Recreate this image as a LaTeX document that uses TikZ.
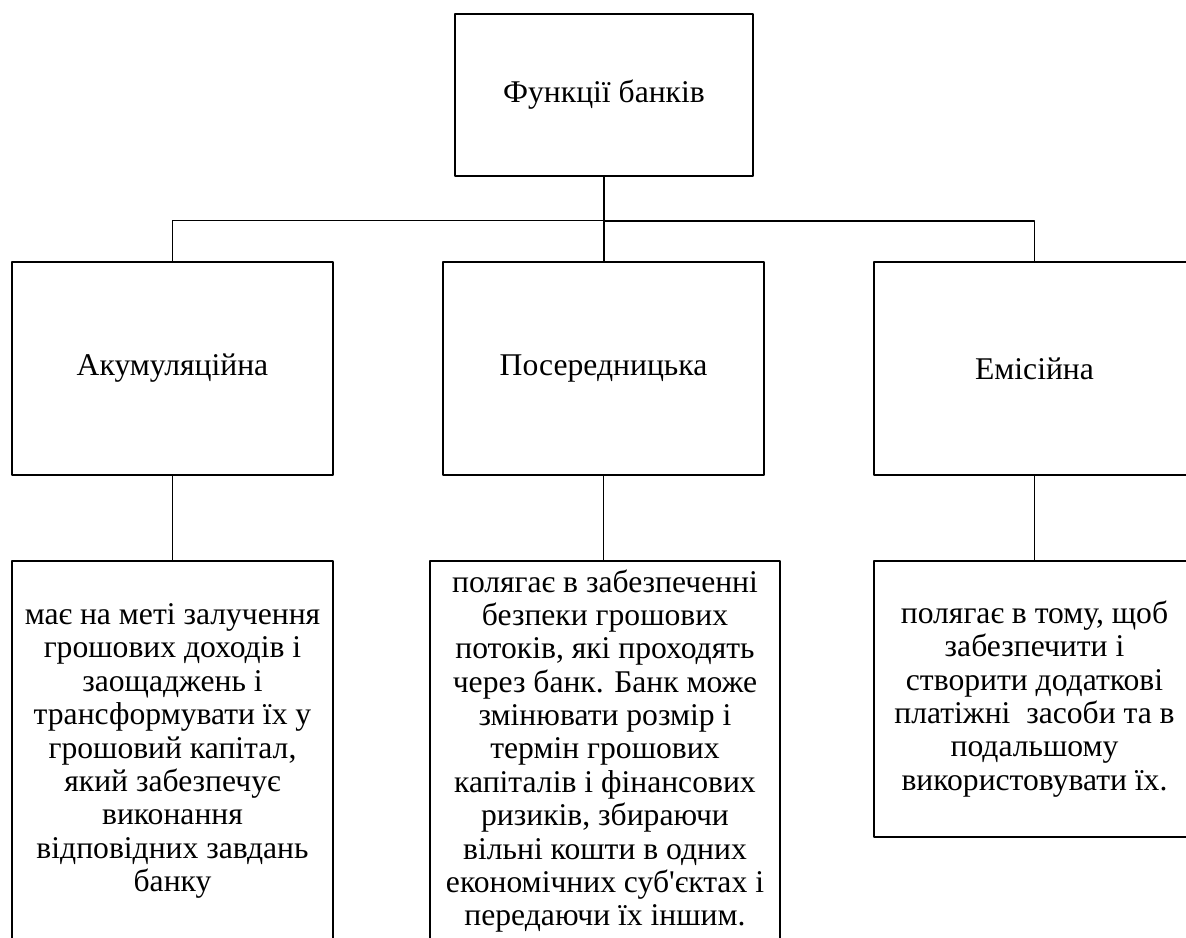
\documentclass[tikz,border=0pt]{standalone}
\usepackage{fontspec}
\setmainfont{Liberation Serif}
\usetikzlibrary{positioning}
\begin{document}
\begin{tikzpicture}[x=0.02cm, y=-0.02cm, font=\fontsize{18}{19}\selectfont, line join=round, line cap=round,
	box/.style={draw, line width=1.1pt, align=center, inner sep=2pt},
	link/.style={line width=0.9pt}]
	\useasboundingbox (0,0) rectangle (1186,937);
	\clip (0,0) rectangle (1186,937);
	% верхній блок
	\node[box, minimum width=5.96cm, minimum height=3.24cm] (fun) at (604,95) {Функції банків};
	% функції
	\node[box, minimum width=6.42cm, minimum height=4.26cm] (acc) at (172.5,368.5) {Акумуляційна};
	\node[box, minimum width=6.42cm, minimum height=4.26cm] (med) at (603.5,368.5) {Посередницька};
	\node[box, minimum width=6.42cm, minimum height=4.26cm] (emi) at (1034.5,368.5) {Емісійна};
	% пояснення
	\node[box, minimum width=6.42cm, minimum height=7.6cm] (acct) at (172.5,751)
		{має на меті залучення\\ грошових доходів і\\ заощаджень і\\ трансформувати їх у\\ грошовий капітал,\\ який забезпечує\\ виконання\\ відповідних завдань\\ банку};
	\node[box, minimum width=7.0cm, minimum height=7.6cm] (medt) at (605,751)
		{полягає в забезпеченні\\ безпеки грошових\\ потоків, які проходять\\ через банк. Банк може\\ змінювати розмір і\\ термін грошових\\ капіталів і фінансових\\ ризиків, збираючи\\ вільні кошти в одних\\ економічних суб\textquotesingle єктах і\\ передаючи їх іншим.};
	\node[box, minimum width=6.42cm, minimum height=5.52cm] (emit) at (1034.5,699)
		{полягає в тому, щоб\\ забезпечити і\\ створити додаткові\\ платіжні~ засоби та в\\ подальшому\\ використовувати їх.};
	% з'єднання
	\draw[link] (fun.south) -- ++(0,44) coordinate (hub);
	\draw[line width=0.6pt] (hub) -| (acc.north);
	\draw[link] (hub) -| (emi.north);
	\draw[link] (hub) -- (hub |- med.north);
	\foreach \a/\b in {acc/acct, med/medt, emi/emit}
		\draw[link] (\a.south) -- (\a.south |- \b.north);
\end{tikzpicture}
\end{document}
